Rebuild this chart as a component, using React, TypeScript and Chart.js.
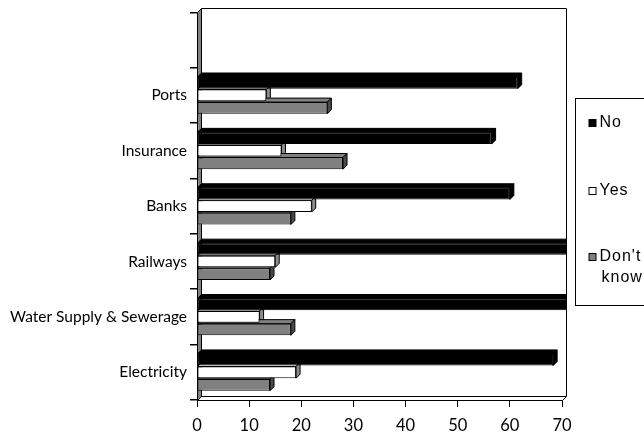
import React, { useEffect, useRef } from "react";
import { Chart, registerables } from "chart.js";

Chart.register(...registerables);

// Survey answers per sector (percent of respondents)
const categories = ["", "Ports", "Insurance", "Banks", "Railways", "Water Supply & Sewerage", "Electricity"];
const seriesNames = ["No", "Yes", "Don't know"];
const noValues = [null, 61.5, 56.5, 60, 72, 72, 68.3];
const yesValues = [null, 13.3, 16.2, 22, 15, 12, 19];
const dontKnowValues = [null, 25, 28, 18, 14, 18, 14];
const xMin = 0;
const xMax = 70;
const xStep = 10;

const seriesValues = [noValues, yesValues, dontKnowValues];

// Face / top / side shades for the pseudo-3D bars
const faceColors = ["#000000", "#ffffff", "#808080"];
const topColors = ["#000000", "#ffffff", "#808080"];
const sideColors = ["#000000", "#8c8c8c", "#4a4a4a"];

const DEPTH = 4;

function poly(ctx: CanvasRenderingContext2D, pts: number[][], fill: string) {
  ctx.beginPath();
  pts.forEach(([x, y], i) => (i === 0 ? ctx.moveTo(x, y) : ctx.lineTo(x, y)));
  ctx.closePath();
  ctx.fillStyle = fill;
  ctx.fill();
  ctx.stroke();
}

const depthPlugin = {
  id: "depth3d",
  beforeDatasetsDraw(chart: any) {
    const { ctx, chartArea: a } = chart;
    const L = Math.round(a.left) + 0.5;
    const R = Math.round(a.right) + 0.5;
    const T = Math.round(a.top) + 0.5;
    const B = Math.round(a.bottom) + 0.5;
    const d = DEPTH;
    ctx.save();
    ctx.lineWidth = 1;
    ctx.strokeStyle = "#000";
    // back wall
    poly(ctx, [[L + d, T - d], [R + d, T - d], [R + d, B - d], [L + d, B - d]], "#ffffff");
    // floor
    poly(ctx, [[L, B], [R, B], [R + d, B - d], [L + d, B - d]], "#ffffff");
    // left side wall
    poly(ctx, [[L, T], [L + d, T - d], [L + d, B - d], [L, B]], "#808080");

    // top and side faces of every bar, clipped to the back wall
    ctx.beginPath();
    ctx.rect(0, 0, R + d + 0.5, chart.height);
    ctx.clip();
    chart.data.datasets.forEach((_ds: any, di: number) => {
      const meta = chart.getDatasetMeta(di);
      meta.data.forEach((el: any, i: number) => {
        const v = seriesValues[di][i];
        if (v === null || v === undefined) return;
        const p = el.getProps(["x", "y", "base", "height"], true);
        const x0 = Math.min(p.x, p.base);
        const x1 = Math.max(p.x, p.base);
        const top = p.y - p.height / 2;
        const bot = p.y + p.height / 2;
        poly(ctx, [[x0, top], [x1, top], [x1 + d, top - d], [x0 + d, top - d]], topColors[di]);
        poly(ctx, [[x1, top], [x1 + d, top - d], [x1 + d, bot - d], [x1, bot]], sideColors[di]);
      });
    });
    ctx.restore();
  },
};

const legendPlugin = {
  id: "boxLegend",
  afterDraw(chart: any) {
    const { ctx, chartArea: a } = chart;
    const boxL = Math.round(a.right) + 13.5;
    const boxT = 98.5;
    const boxB = 305.5;
    const rowY = [123, 190.5, 257];
    ctx.save();
    ctx.lineWidth = 1;
    ctx.strokeStyle = "#000";
    ctx.strokeRect(boxL, boxT, 120, boxB - boxT);
    ctx.font = "16px 'Liberation Sans', Arial, sans-serif";
    (ctx as any).letterSpacing = "1px";
    ctx.textBaseline = "middle";
    ctx.textAlign = "left";
    seriesNames.forEach((name, i) => {
      const sx = boxL + 13.5;
      const sy = Math.round(rowY[i] - 4) + 0.5;
      ctx.fillStyle = faceColors[i];
      ctx.fillRect(sx, sy, 7, 7);
      ctx.strokeRect(sx, sy, 7, 7);
      ctx.fillStyle = "#000";
      const words = name.split(" ");
      words.forEach((w, k) => ctx.fillText(w, sx + 10.5 + k * 2, rowY[i] + k * 21));
    });
    ctx.restore();
  },
};

export default function App() {
  const ref = useRef<HTMLCanvasElement>(null);

  useEffect(() => {
    if (!ref.current) return;
    Chart.defaults.font.family = "Lato, 'Open Sans', sans-serif";
    const chart = new Chart(ref.current, {
      type: "bar",
      data: {
        labels: categories,
        datasets: seriesNames.map((name, i) => ({
          label: name,
          data: seriesValues[i] as any,
          backgroundColor: faceColors[i],
          borderColor: "#000000",
          borderWidth: 1,
          borderSkipped: false,
        })),
      },
      options: {
        indexAxis: "y",
        responsive: false,
        animation: false,
        layout: { padding: { top: 12, right: 82, left: 0, bottom: 0 } },
        datasets: { bar: { categoryPercentage: 0.68, barPercentage: 0.93, clip: 4 } as any },
        plugins: { legend: { display: false }, tooltip: { enabled: false } },
        scales: {
          x: {
            type: "linear",
            min: xMin,
            max: xMax,
            ticks: { stepSize: xStep, color: "#000", font: { size: 16.5 }, padding: 9 },
            grid: { drawOnChartArea: false, tickLength: 7, color: "#000" },
            border: { display: false },
            afterFit: (s: any) => {
              s.height = 34;
            },
          },
          y: {
            type: "category",
            grid: { offset: true, drawOnChartArea: false, tickLength: 7, color: "#000", lineWidth: 1.5 },
            border: { display: false },
            ticks: { color: "#000", font: { size: 15.5 }, padding: 3 },
            afterFit: (s: any) => {
              s.width = 197;
            },
          },
        },
      },
      plugins: [depthPlugin, legendPlugin],
    });
    return () => chart.destroy();
  }, []);

  return (
    <div style={{ position: "absolute", left: 0, top: 0, width: 644, height: 434, background: "#fff" }}>
      <canvas ref={ref} width={644} height={434} style={{ display: "block" }} />
    </div>
  );
}
